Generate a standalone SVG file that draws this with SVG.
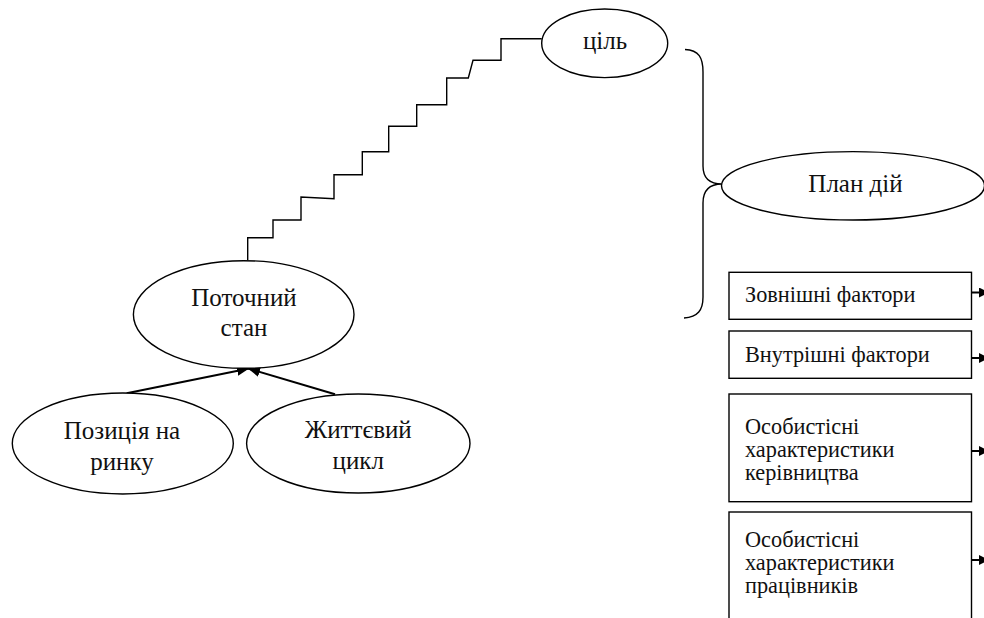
<svg xmlns="http://www.w3.org/2000/svg" width="984" height="618" viewBox="0 0 984 618">
<style>
.shape{fill:#fff;stroke:#000;stroke-width:1.4}
.line{fill:none;stroke:#000;stroke-width:1.4}
.arr{fill:none;stroke:#000;stroke-width:2}
.t{font-family:"Liberation Serif","Times New Roman",serif;fill:#111}
.e{font-size:25px;text-anchor:middle}
.b{font-size:22.3px}
</style>
<defs>
<marker id="ah" markerUnits="userSpaceOnUse" markerWidth="14" markerHeight="12" refX="12" refY="5" orient="auto">
<path d="M0,0 L12,5 L0,10 Z" fill="#000"/>
</marker>
<marker id="ah2" markerUnits="userSpaceOnUse" markerWidth="12" markerHeight="12" refX="10" refY="5" orient="auto">
<path d="M0,0 L10,5 L0,10 Z" fill="#000"/>
</marker>
</defs>
<g id="connectors">
<polyline class="line" points="247.7,260 247.7,237.7 273,237.7 273,220 301,220 301,197 334,198.7 334,174.7 362.3,174.7 362.3,151.7 388.7,151.7 388.7,126.3 416.7,126.3 416.7,104.7 446.7,104.7 446.7,78 468.3,78 473,60.3 501,60.3 501,38.7 541.7,38.7"/>
<path class="line" d="M685,49.5 C699,50 703,58 703,72 L703,166 C703,178 710,184 722,184 C710,184 703,190 703,203 L703,297 C703,310 698,317 684,318"/>
<line class="arr" x1="126.7" y1="393.3" x2="249" y2="368.5" marker-end="url(#ah)"/>
<line class="arr" x1="335" y1="394.3" x2="248" y2="368.5" marker-end="url(#ah)"/>
<line class="arr" x1="971.5" y1="292.5" x2="989" y2="292.5" marker-end="url(#ah2)"/>
<line class="arr" x1="971.5" y1="358" x2="989" y2="358" marker-end="url(#ah2)"/>
<line class="arr" x1="971.5" y1="451" x2="989" y2="451" marker-end="url(#ah2)"/>
<line class="arr" x1="971.5" y1="560" x2="989" y2="560" marker-end="url(#ah2)"/>
</g>
<g id="goal">
<ellipse class="shape" cx="604.7" cy="43.3" rx="63" ry="34.3"/>
<text class="t e" x="605" y="48.8">ціль</text>
</g>
<g id="plan">
<ellipse class="shape" cx="853" cy="185.8" rx="131.5" ry="34.2"/>
<text class="t e" x="855.5" y="192.2">План дій</text>
</g>
<g id="current">
<ellipse class="shape" cx="243.7" cy="314.5" rx="110.3" ry="53.8"/>
<text class="t e" x="244" y="305.7">Поточний</text>
<text class="t e" x="244" y="336">стан</text>
</g>
<g id="position">
<ellipse class="shape" cx="122.8" cy="443.5" rx="110.5" ry="50.5"/>
<text class="t e" x="122" y="439">Позиція на</text>
<text class="t e" x="122" y="469.5">ринку</text>
</g>
<g id="lifecycle">
<ellipse class="shape" cx="358.3" cy="443.5" rx="111.7" ry="49.5"/>
<text class="t e" x="358.3" y="438.3">Життєвий</text>
<text class="t e" x="358.3" y="468.5">цикл</text>
</g>
<g id="external">
<rect class="shape" x="729" y="272.3" width="242.5" height="47"/>
<text class="t b" x="745" y="302">Зовнішні фактори</text>
</g>
<g id="internal">
<rect class="shape" x="729" y="331" width="242.5" height="47.3"/>
<text class="t b" x="745" y="362">Внутрішні фактори</text>
</g>
<g id="management">
<rect class="shape" x="729" y="394" width="242.5" height="107.7"/>
<text class="t b" x="745" y="434">Особистісні</text>
<text class="t b" x="745" y="457">характеристики</text>
<text class="t b" x="745" y="480">керівництва</text>
</g>
<g id="employees">
<rect class="shape" x="729" y="512" width="242.5" height="130"/>
<text class="t b" x="745" y="547">Особистісні</text>
<text class="t b" x="745" y="570">характеристики</text>
<text class="t b" x="745" y="593">працівників</text>
</g>
</svg>
